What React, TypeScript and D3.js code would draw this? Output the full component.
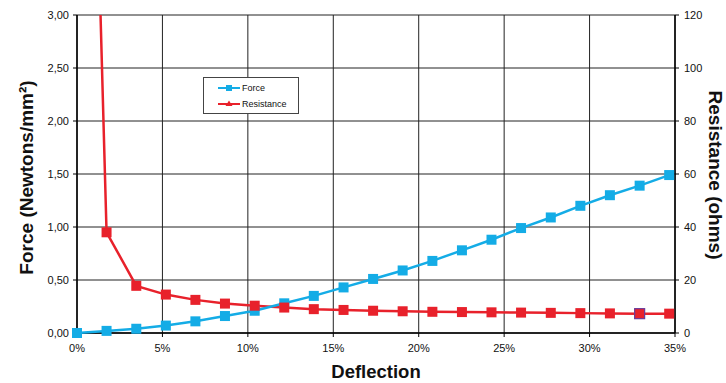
import React from "react";
import * as d3 from "d3";

const deflection = [0, 1.73, 3.47, 5.2, 6.93, 8.66, 10.4, 12.13, 13.86, 15.6, 17.33, 19.06, 20.8, 22.53, 24.26, 25.99, 27.73, 29.46, 31.19, 32.93, 34.66];
const force = [0, 0.02, 0.04, 0.07, 0.11, 0.16, 0.21, 0.28, 0.35, 0.43, 0.51, 0.59, 0.68, 0.78, 0.88, 0.99, 1.09, 1.2, 1.3, 1.39, 1.49];
const resistance = [440, 38, 17.8, 14.5, 12.5, 11.1, 10.3, 9.6, 9.0, 8.7, 8.4, 8.2, 8.0, 7.9, 7.8, 7.7, 7.6, 7.5, 7.4, 7.3, 7.3];
const xTicks = [0, 5, 10, 15, 20, 25, 30, 35];
const leftTicks = [0, 0.5, 1, 1.5, 2, 2.5, 3];
const rightTicks = [0, 20, 40, 60, 80, 100, 120];
const highlightIndex = 19;

export default function App() {
  const W = 726, H = 383;
  const L = 77, R = 675, T = 15, B = 333;
  const x = d3.scaleLinear().domain([0, 35]).range([L, R]);
  const yL = d3.scaleLinear().domain([0, 3]).range([B, T]);
  const yR = d3.scaleLinear().domain([0, 120]).range([B, T]);
  const fmt = (v: number) => v.toFixed(2).replace(".", ",");
  const forceLine = d3.line<number>().x((_, i) => x(deflection[i])).y((d) => yL(d))(force) || "";
  const resLine = d3.line<number>().x((_, i) => x(deflection[i])).y((d) => yR(d))(resistance) || "";
  const blue = "#14ACE6";
  const red = "#E8212B";
  const font = "Arial, 'Liberation Sans', sans-serif";
  return (
    <svg width={W} height={H} style={{ position: "absolute", left: 0, top: 0, fontFamily: font }}>
      <rect width={W} height={H} fill="#fff" />
      <defs>
        <clipPath id="plot">
          <rect x={L} y={T} width={R - L} height={B - T} />
        </clipPath>
      </defs>
      {leftTicks.map((t) => (
        <line key={"h" + t} x1={L} x2={R} y1={yL(t)} y2={yL(t)} stroke="#222" strokeWidth={1} />
      ))}
      {xTicks.map((t) => (
        <line key={"v" + t} x1={x(t)} x2={x(t)} y1={T} y2={B} stroke="#222" strokeWidth={1} />
      ))}
      <line x1={L} x2={L} y1={T} y2={B} stroke="#000" strokeWidth={1.5} />
      <line x1={R} x2={R} y1={T} y2={B} stroke="#000" strokeWidth={1.5} />
      <line x1={L} x2={R} y1={B} y2={B} stroke="#000" strokeWidth={1.5} />
      {leftTicks.map((t) => (
        <g key={"lt" + t}>
          <line x1={L - 4} x2={L} y1={yL(t)} y2={yL(t)} stroke="#000" />
          <text x={L - 8} y={yL(t)} dy="0.35em" textAnchor="end" fontSize={11} fill="#111">{fmt(t)}</text>
        </g>
      ))}
      {rightTicks.map((t) => (
        <g key={"rt" + t}>
          <line x1={R} x2={R + 4} y1={yR(t)} y2={yR(t)} stroke="#000" />
          <text x={R + 9} y={yR(t)} dy="0.35em" textAnchor="start" fontSize={11} fill="#111">{t}</text>
        </g>
      ))}
      {xTicks.map((t) => (
        <g key={"xt" + t}>
          <line x1={x(t)} x2={x(t)} y1={B} y2={B + 4} stroke="#000" />
          <text x={x(t)} y={B + 19} textAnchor="middle" fontSize={11} fill="#111">{t + "%"}</text>
        </g>
      ))}
      <g clipPath="url(#plot)">
        <path d={resLine} fill="none" stroke={red} strokeWidth={2.5} />
      </g>
      <path d={forceLine} fill="none" stroke={blue} strokeWidth={2.5} />
      {force.map((v, i) => (
        <rect key={"f" + i} x={x(deflection[i]) - 5} y={yL(v) - 5} width={10} height={10} fill={blue} />
      ))}
      {resistance.map((v, i) =>
        yR(v) < T ? null : (
          <rect key={"r" + i} x={x(deflection[i]) - 5} y={yR(v) - 5} width={10} height={10} fill={red}
            stroke={i === highlightIndex ? "#6A3A9A" : "none"} strokeWidth={i === highlightIndex ? 1.2 : 0} />
        )
      )}
      <g>
        <rect x={203.5} y={77.5} width={95} height={36} fill="#fff" stroke="#444" strokeWidth={1} />
        <line x1={218} x2={240} y1={88} y2={88} stroke={blue} strokeWidth={2} />
        <rect x={226} y={85} width={6} height={6} fill={blue} />
        <text x={242} y={88} dy="0.35em" fontSize={9} fill="#111">Force</text>
        <line x1={218} x2={240} y1={104} y2={104} stroke={red} strokeWidth={2} />
        <path d="M229,100.5 L232.5,106 L225.5,106 Z" fill={red} />
        <text x={242} y={104} dy="0.35em" fontSize={9} fill="#111">Resistance</text>
      </g>
      <text transform={`translate(33,177.5) rotate(-90)`} textAnchor="middle" fontSize={19} fontWeight="bold" fill="#111">Force (Newtons/mm²)</text>
      <text transform={`translate(709,175) rotate(90)`} textAnchor="middle" fontSize={19} fontWeight="bold" fill="#111">Resistance (ohms)</text>
      <text x={376} y={378} textAnchor="middle" fontSize={18.5} fontWeight="bold" fill="#111">Deflection</text>
    </svg>
  );
}
